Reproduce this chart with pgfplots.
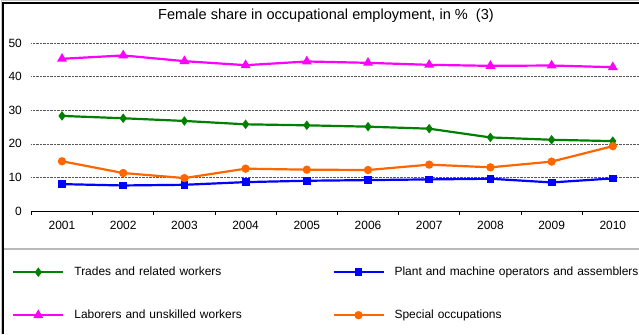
\documentclass[border=0pt]{standalone}
\usepackage{pgfplots}
\pgfplotsset{compat=1.18}
\usepackage{fontspec}
\setmainfont{Liberation Sans}

\definecolor{trades}{RGB}{0,128,0}
\definecolor{plant}{RGB}{0,0,255}
\definecolor{labor}{RGB}{255,0,255}
\definecolor{special}{RGB}{255,102,0}

\begin{document}
\begin{tikzpicture}[x=1bp,y=1bp]
\useasboundingbox (0,0) rectangle (639,334);
\clip (0,0) rectangle (639,334);
% frame and separator
\draw[gray!45, line width=1bp] (1,0) -- (1,333) -- (639,333);
\draw[black, line width=2bp] (3,0) -- (3,331) -- (639,331);
\draw[gray!55, line width=2bp] (4,85) -- (639,85);
\node[font=\fontsize{14.6}{17}\selectfont, anchor=center] at (326,318) {Female share in occupational employment, in \%\ \ (3)};

\begin{axis}[
  at={(31.4bp,123bp)}, anchor=south west,
  scale only axis, width=612bp, height=168bp,
  xmin=-0.5, xmax=9.5, ymin=0, ymax=50,
  separate axis lines,
  axis x line*=bottom, axis y line*=left,
  y axis line style={draw=none},
  x axis line style={black, line width=1bp},
  xtick={0,...,9},
  xticklabels={2001,2002,2003,2004,2005,2006,2007,2008,2009,2010},
  minor xtick={-0.5,0.5,...,9.5},
  ytick={0,10,...,50},
  major tick length=0pt, minor tick length=4bp,
  tick align=outside,
  minor tick style={black, line width=0.8bp},
  ymajorgrids,
  major grid style={densely dotted, black!65, line width=0.6bp},
  /pgf/number format/assume math mode=true,
  ticklabel style={font=\fontsize{12}{14}\selectfont},
  yticklabel style={xshift=-6bp},
  xticklabel style={yshift=-7bp},
  clip=false,
  legend columns=2,
  legend cell align=left,
  legend style={draw=none, fill=none, inner sep=0pt,
    at={(axis description cs:-0.03170,-0.32738)}, anchor=north west,
    font=\fontsize{12}{14}\selectfont,
    nodes={inner sep=0pt, text width=258bp, text height=9bp, text depth=3bp},
    /tikz/every odd column/.style={column sep=10bp},
    /tikz/every even column/.style={column sep=0bp},
    row sep=31bp},
  legend image code/.code={\draw[#1, mark repeat=2, mark phase=2] plot coordinates {(0bp,0bp) (25bp,0bp) (50bp,0bp)};},
  every axis plot/.append style={line width=2.2bp, mark options={solid}},
]
\addplot[trades, mark=diamond*, mark size=3bp] coordinates {
  (0,28.3) (1,27.6) (2,26.8) (3,25.8) (4,25.5) (5,25.1) (6,24.5) (7,21.9) (8,21.2) (9,20.8)};
\addlegendentry{Trades and related workers}
\addplot[plant, mark=square*, mark size=2.8bp] coordinates {
  (0,8.0) (1,7.6) (2,7.8) (3,8.6) (4,9.0) (5,9.2) (6,9.4) (7,9.6) (8,8.5) (9,9.7)};
\addlegendentry{Plant and machine operators and assemblers}
\addplot[labor, mark=triangle*, mark size=3.6bp] coordinates {
  (0,45.3) (1,46.3) (2,44.6) (3,43.4) (4,44.5) (5,44.1) (6,43.5) (7,43.2) (8,43.3) (9,42.8)};
\addlegendentry{Laborers and unskilled workers}
\addplot[special, mark=*, mark size=3bp] coordinates {
  (0,14.8) (1,11.3) (2,9.8) (3,12.6) (4,12.3) (5,12.2) (6,13.8) (7,13.0) (8,14.7) (9,19.3)};
\addlegendentry{Special occupations}
\end{axis}
\end{tikzpicture}
\end{document}
